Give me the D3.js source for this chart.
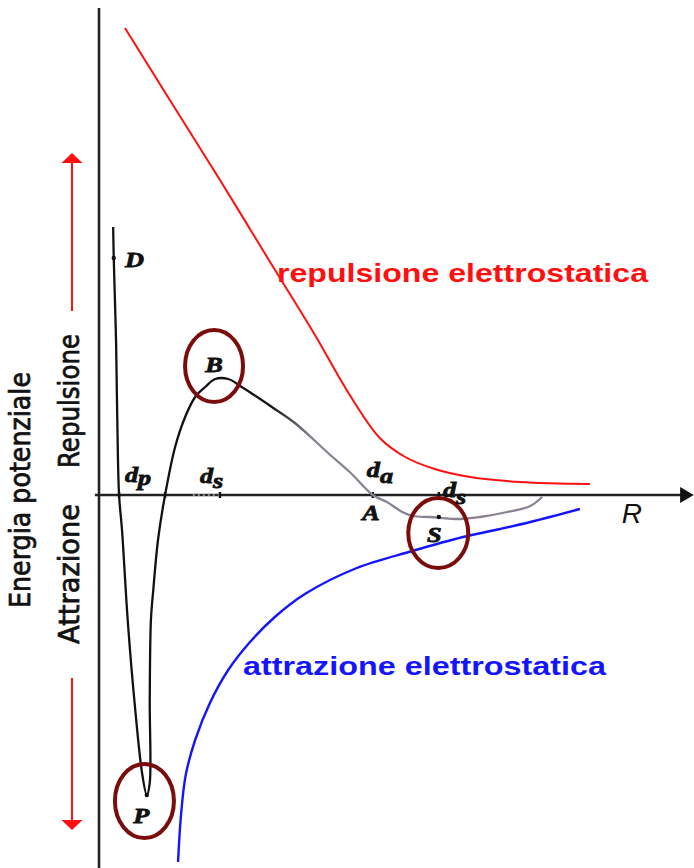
<!DOCTYPE html>
<html>
<head>
<meta charset="utf-8">
<script src="https://cdn.jsdelivr.net/npm/d3@7"></script>
<style>
  html, body { margin: 0; padding: 0; background: #fff; }
  svg { display: block; }
</style>
</head>
<body>
<svg id="chart" width="694" height="868"></svg>
<script>
// Energia potenziale in funzione della distanza R (unità arbitrarie)
// Repulsione elettrostatica [R, E]
const repulsione = [
  [0.44, 9.34], [1.20, 7.90], [2.05, 6.30], [2.90, 4.66], [3.66, 3.20],
  [4.25, 2.00], [4.76, 1.14], [5.19, 0.76], [5.69, 0.52], [6.29, 0.36],
  [7.14, 0.26], [8.32, 0.22]
];
// Attrazione elettrostatica [R, E]
const attrazione = [
  [1.34, -7.34], [1.39, -6.40], [1.47, -5.60], [1.63, -4.90], [1.88, -4.16],
  [2.19, -3.50], [2.56, -2.94], [2.98, -2.44], [3.49, -1.98], [4.37, -1.46],
  [5.31, -1.12], [6.17, -0.84], [6.80, -0.68], [7.31, -0.54], [8.15, -0.28]
];
// Energia risultante [R, E]
const risultante = [
  [0.24, 5.36], [0.25, 4.74], [0.27, 3.90], [0.29, 3.04], [0.31, 1.50],
  [0.34, 0.00], [0.39, -0.70], [0.49, -2.56], [0.61, -4.24], [0.73, -5.56],
  [0.81, -6.00], [0.86, -5.76], [0.86, -4.10], [0.88, -2.50], [0.92, -1.90],
  [1.00, -0.90], [1.12, 0.00], [1.29, 0.96], [1.46, 1.56], [1.63, 1.96],
  [1.80, 2.16], [1.97, 2.32], [2.19, 2.32], [2.42, 2.16], [2.93, 1.76],
  [3.32, 1.44], [3.92, 0.80], [4.25, 0.46], [4.64, 0.00], [4.88, -0.14],
  [5.14, -0.34], [5.32, -0.42], [5.61, -0.44], [6.12, -0.48], [6.46, -0.44],
  [6.92, -0.34], [7.31, -0.22], [7.51, -0.04]
];
// Distanze segnate sull'asse R
const distanze = [0.34, 1.12, 2.05, 4.64, 5.76];
// Punti notevoli della curva risultante
const puntiNotevoli = [[0.25, 4.74], [0.81, -6.00], [5.76, -0.44]];
// Punti cerchiati: B (barriera), S (minimo secondario), P (minimo primario)
const cerchiati = [[1.95, 2.58], [5.75, -0.76], [0.77, -6.12]];

const svg = d3.select("#chart");
const x = d3.scaleLinear().domain([0, 10]).range([99, 689]);
const y = d3.scaleLinear().domain([-7.4, 9.9]).range([865, 0]);

const defs = svg.append("defs");
const grad = defs.append("linearGradient")
  .attr("id", "sfumatura")
  .attr("gradientUnits", "userSpaceOnUse")
  .attr("x1", x(2.9)).attr("x2", x(3.6)).attr("y1", 0).attr("y2", 0);
grad.append("stop").attr("offset", 0).attr("stop-color", "#111");
grad.append("stop").attr("offset", 1).attr("stop-color", "#8a8292");

// Assi
svg.append("line")
  .attr("x1", x(0)).attr("x2", x(0))
  .attr("y1", y(9.74)).attr("y2", 868)
  .attr("stroke", "#222").attr("stroke-width", 2.6);
svg.append("line")
  .attr("x1", x(-0.07)).attr("x2", x(9.9))
  .attr("y1", y(0)).attr("y2", y(0))
  .attr("stroke", "#222").attr("stroke-width", 2.6);
svg.append("path")
  .attr("d", `M${x(9.85)},${y(0) - 8}L${x(10.08)},${y(0)}L${x(9.85)},${y(0) + 8}Z`)
  .attr("fill", "#111");

// Tratto punteggiato sull'asse
svg.append("line")
  .attr("x1", x(1.59)).attr("x2", x(2.05))
  .attr("y1", y(0)).attr("y2", y(0))
  .attr("stroke", "#888").attr("stroke-width", 2)
  .attr("stroke-dasharray", "2,3");

// Tacche delle distanze
svg.selectAll("line.tacca").data(distanze).join("line")
  .attr("class", "tacca")
  .attr("x1", d => x(d)).attr("x2", d => x(d))
  .attr("y1", y(0) - 3).attr("y2", y(0) + 3)
  .attr("stroke", "#111").attr("stroke-width", 2.4);

const linea = d3.line()
  .x(d => x(d[0])).y(d => y(d[1]))
  .curve(d3.curveCatmullRom.alpha(0.5));

svg.append("path").datum(repulsione)
  .attr("d", linea).attr("fill", "none")
  .attr("stroke", "#ff1010").attr("stroke-width", 2);
svg.append("path").datum(attrazione)
  .attr("d", linea).attr("fill", "none")
  .attr("stroke", "#1414ff").attr("stroke-width", 2.4);
svg.append("path").datum(risultante)
  .attr("d", linea).attr("fill", "none")
  .attr("stroke", "url(#sfumatura)").attr("stroke-width", 2.3)
  .attr("stroke-linejoin", "round");

svg.selectAll("circle.punto").data(puntiNotevoli).join("circle")
  .attr("class", "punto")
  .attr("cx", d => x(d[0])).attr("cy", d => y(d[1]))
  .attr("r", 2.2).attr("fill", "#111");

// Ellissi attorno ai punti B, S, P
const raggi = [[29, 36], [30, 35], [29.5, 37]];
svg.selectAll("ellipse").data(cerchiati).join("ellipse")
  .attr("cx", d => x(d[0])).attr("cy", d => y(d[1]))
  .attr("rx", (d, i) => raggi[i][0]).attr("ry", (d, i) => raggi[i][1])
  .attr("fill", "none").attr("stroke", "#7a0c0c").attr("stroke-width", 4);

// Etichette in corsivo grassetto
function etichetta(R, E, base, sub, dySub) {
  const t = svg.append("text")
    .attr("transform", `translate(${x(R)},${y(E)}) scale(1.25,1)`)
    .attr("font-family", "'Liberation Serif', serif")
    .attr("font-style", "italic").attr("font-weight", "bold")
    .attr("font-size", 21).attr("fill", "#111")
    .attr("stroke", "#111").attr("stroke-width", 0.8);
  t.append("tspan").text(base);
  if (sub) t.append("tspan").attr("dy", dySub).attr("dx", 0).text(sub);
}
etichetta(0.44, 4.56, "D");
etichetta(1.80, 2.46, "B");
etichetta(0.44, 0.26, "d", "p", 3);
etichetta(1.71, 0.24, "d", "s", 5);
etichetta(4.54, 0.36, "d", "a", 6);
etichetta(4.46, -0.50, "A");
etichetta(5.83, -0.04, "d", "s", 7);
etichetta(5.56, -0.94, "S");
etichetta(0.58, -6.56, "P");

svg.append("text")
  .attr("x", x(8.86)).attr("y", y(-0.56))
  .attr("font-family", "'Liberation Sans', Arial, sans-serif")
  .attr("font-style", "italic").attr("font-size", 28).attr("fill", "#111")
  .text("R");

// Nomi delle curve
svg.append("text")
  .attr("x", 277).attr("y", 282)
  .attr("textLength", 371).attr("lengthAdjust", "spacingAndGlyphs")
  .attr("font-family", "'Liberation Sans', Arial, sans-serif")
  .attr("font-weight", "bold").attr("font-size", 26).attr("fill", "#ff1010")
  .text("repulsione elettrostatica");
svg.append("text")
  .attr("x", 243).attr("y", 675)
  .attr("textLength", 363).attr("lengthAdjust", "spacingAndGlyphs")
  .attr("font-family", "'Liberation Sans', Arial, sans-serif")
  .attr("font-weight", "bold").attr("font-size", 26).attr("fill", "#1414ff")
  .text("attrazione elettrostatica");

// Titolo dell'asse verticale
function verticale(testo, cx, cy, lung) {
  svg.append("text")
    .attr("transform", `translate(${cx},${cy}) rotate(-90)`)
    .attr("text-anchor", "middle")
    .attr("textLength", lung).attr("lengthAdjust", "spacingAndGlyphs")
    .attr("font-family", "'Liberation Sans Narrow', 'DejaVu Sans Condensed', Arial, sans-serif")
    .attr("font-size", 28).attr("fill", "#111")
    .attr("stroke", "#111").attr("stroke-width", 0.7)
    .text(testo);
}
verticale("Energia potenziale", 30, 490, 236);
verticale("Repulsione", 79, 401, 134);
verticale("Attrazione", 79, 574, 140);

// Frecce rosse
const frecce = svg.append("g").attr("stroke", "#ff1010").attr("fill", "#ff1010");
frecce.append("line").attr("x1", 72).attr("x2", 72).attr("y1", 160).attr("y2", 311).attr("stroke-width", 2);
frecce.append("path").attr("d", "M61.5,163L72,153L82.5,163Z").attr("stroke", "none");
frecce.append("line").attr("x1", 72).attr("x2", 72).attr("y1", 678).attr("y2", 822).attr("stroke-width", 2);
frecce.append("path").attr("d", "M61.5,820L72,830L82.5,820Z").attr("stroke", "none");
</script>
</body>
</html>
